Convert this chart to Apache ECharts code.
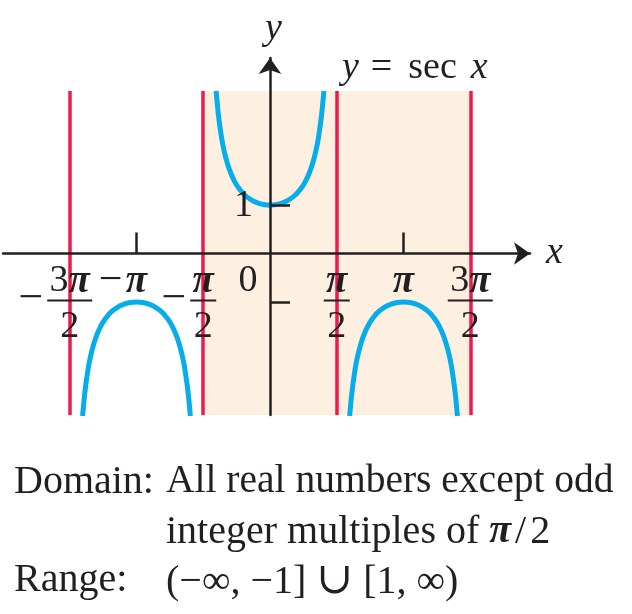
<!DOCTYPE html>
<html>
<head>
<meta charset="utf-8">
<script src="https://cdn.jsdelivr.net/npm/echarts@6/dist/echarts.min.js"></script>
<style>
html,body{margin:0;padding:0;background:#fff;}
#chart{width:632px;height:614px;}
</style>
</head>
<body>
<div id="chart"></div>
<script>
const PI = Math.PI;

// Blue curve branches
const upperBranch = [
  [-1.2677, 3.35], [-1.24, 3.08], [-1.2, 2.76], [-1.15, 2.45], [-1.1, 2.20],
  [-1.0, 1.85], [-0.9, 1.61], [-0.8, 1.435], [-0.7, 1.31], [-0.6, 1.21],
  [-0.45, 1.11], [-0.3, 1.047], [-0.15, 1.011], [0, 1.0], [0.15, 1.011],
  [0.3, 1.047], [0.45, 1.11], [0.6, 1.21], [0.7, 1.31], [0.8, 1.435],
  [0.9, 1.61], [1.0, 1.85], [1.1, 2.20], [1.15, 2.45], [1.2, 2.76],
  [1.24, 3.08], [1.2677, 3.35]
];
const leftBranch = [
  [-4.4093, -3.35], [-4.3816, -3.08], [-4.3416, -2.76], [-4.2916, -2.45], [-4.2416, -2.20],
  [-4.1416, -1.85], [-4.0416, -1.61], [-3.9416, -1.435], [-3.8416, -1.31], [-3.7416, -1.21],
  [-3.5916, -1.11], [-3.4416, -1.047], [-3.2916, -1.011], [-3.1416, -1.0], [-2.9916, -1.011],
  [-2.8416, -1.047], [-2.6916, -1.11], [-2.5416, -1.21], [-2.4416, -1.31], [-2.3416, -1.435],
  [-2.2416, -1.61], [-2.1416, -1.85], [-2.0416, -2.20], [-1.9916, -2.45], [-1.9416, -2.76],
  [-1.9016, -3.08], [-1.8739, -3.35]
];
const rightBranch = [
  [1.8739, -3.35], [1.9016, -3.08], [1.9416, -2.76], [1.9916, -2.45], [2.0416, -2.20],
  [2.1416, -1.85], [2.2416, -1.61], [2.3416, -1.435], [2.4416, -1.31], [2.5416, -1.21],
  [2.6916, -1.11], [2.8416, -1.047], [2.9916, -1.011], [3.1416, -1.0], [3.2916, -1.011],
  [3.4416, -1.047], [3.5916, -1.11], [3.7416, -1.21], [3.8416, -1.31], [3.9416, -1.435],
  [4.0416, -1.61], [4.1416, -1.85], [4.2416, -2.20], [4.2916, -2.45], [4.3416, -2.76],
  [4.3816, -3.08], [4.4093, -3.35]
];

// Asymptotes and shaded band
const asymptotes = [-3 * PI / 2, -PI / 2, PI / 2, 3 * PI / 2];
const asymptoteYRange = [-3.33, 3.35];
const shadeX = [-PI / 2, 3 * PI / 2];

// Tick positions
const xTicks = [-PI, PI];
const yTicks = [-1, 1];

// Tick labels
const xLabelValues = [-3 * PI / 2, -PI, -PI / 2, PI / 2, PI, 3 * PI / 2];
const xLabelSigns  = ['−', '−', '−', '', '', ''];
const xLabelNums   = ['3π', 'π', 'π', 'π', 'π', '3π'];
const xLabelDens   = ['2', '', '2', '2', '', '2'];
const yLabelValues = [1];
const yLabelTexts  = ['1'];
const originLabel  = '0';

// Axis ranges
const xRange = [-6.282, 6.1176];
const yRange = [-3.33, 4.031];

const FONT = '"Liberation Serif","Times New Roman",serif';
const INK = '#231f20';
const RED = '#ee1a4b';
const BLUE = '#06adea';
const SHADE = '#fdf0e1';
const FS = 38;
const FS_TXT = 40;

const chart = echarts.init(document.getElementById('chart'), null, {renderer: 'canvas'});

function numRich(s) {
  return s.replace(/π/g, '{p|π}');
}
const richStyles = {
  p: {fontFamily: FONT, fontSize: FS + 1, fontStyle: 'italic', fontWeight: 'bold', fill: INK}
};

const option = {
  animation: false,
  backgroundColor: '#ffffff',
  title: {
    text: '{i|y}{e|=}{s|sec}{i|x}',
    left: 337, top: 44,
    textStyle: {
      fontFamily: FONT, fontSize: FS, fontWeight: 'normal', color: INK,
      rich: {
        i: {fontFamily: FONT, fontSize: FS, fontStyle: 'italic', color: INK},
        e: {fontFamily: FONT, fontSize: FS, color: INK, padding: [0, 16, 0, 12]},
        s: {fontFamily: FONT, fontSize: FS, color: INK, padding: [0, 14, 0, 0]}
      }
    }
  },
  grid: {left: 3, width: 527, top: 58, bottom: 199, containLabel: false},
  xAxis: {
    type: 'value', min: xRange[0], max: xRange[1], z: 10,
    name: 'x', nameLocation: 'end', nameGap: 14,
    nameTextStyle: {fontFamily: FONT, fontSize: FS, fontStyle: 'italic', color: INK, verticalAlign: 'middle', padding: [0,0,6,2]},
    axisLine: {onZero: true, symbol: ['none', 'arrow'], symbolSize: [17, 16], lineStyle: {color: INK, width: 2.5}},
    axisTick: {show: true, inside: true, length: 21, customValues: xTicks, lineStyle: {color: INK, width: 2.5}},
    axisLabel: {show: false},
    splitLine: {show: false}
  },
  yAxis: {
    type: 'value', min: yRange[0], max: yRange[1], z: 10,
    name: 'y', nameLocation: 'end', nameGap: 10,
    nameTextStyle: {fontFamily: FONT, fontSize: FS, fontStyle: 'italic', color: INK, padding: [0, 0, 0, 7]},
    axisLine: {onZero: true, symbol: ['none', 'arrow'], symbolSize: [17, 16], lineStyle: {color: INK, width: 2.5}},
    axisTick: {show: true, inside: true, length: 20, customValues: yTicks, lineStyle: {color: INK, width: 2.5}},
    axisLabel: {show: false},
    splitLine: {show: false}
  },
  series: [
    {
      type: 'line', data: [], silent: true, z: 1,
      markArea: {
        silent: true,
        itemStyle: {color: SHADE, opacity: 1},
        data: [[{coord: [shadeX[0], asymptoteYRange[0]]}, {coord: [shadeX[1], asymptoteYRange[1]]}]]
      },
      markLine: {
        silent: true, symbol: ['none', 'none'], label: {show: false},
        lineStyle: {color: RED, width: 3.5, type: 'solid'},
        data: asymptotes.map(a => [{coord: [a, asymptoteYRange[0]]}, {coord: [a, asymptoteYRange[1]]}])
      }
    },
    {type: 'line', data: upperBranch, smooth: true, showSymbol: false, silent: true, z: 3,
     lineStyle: {color: BLUE, width: 5, cap: 'butt'}},
    {type: 'line', data: leftBranch, smooth: true, showSymbol: false, silent: true, z: 3,
     lineStyle: {color: BLUE, width: 5, cap: 'butt'}},
    {type: 'line', data: rightBranch, smooth: true, showSymbol: false, silent: true, z: 3,
     lineStyle: {color: BLUE, width: 5, cap: 'butt'}},
    {
      type: 'custom', coordinateSystem: 'cartesian2d', silent: true, z: 20,
      data: xLabelValues.map((v, i) => [v, 0, i]),
      encode: {x: 0, y: 1},
      renderItem: function (params, api) {
        const i = params.dataIndex;
        const p = api.coord([api.value(0), 0]);
        const num = xLabelNums[i], den = xLabelDens[i], sign = xLabelSigns[i];
        const w = num.length > 1 ? 45 : 26;
        const children = [];
        children.push({
          type: 'text', x: p[0], y: p[1] + 28,
          style: {text: numRich(num), fontFamily: FONT, fontSize: FS, fill: INK,
                  align: 'center', verticalAlign: 'middle', rich: richStyles}
        });
        if (den) {
          children.push({
            type: 'line', shape: {x1: p[0] - w / 2, y1: p[1] + 47, x2: p[0] + w / 2, y2: p[1] + 47},
            style: {stroke: INK, lineWidth: 2}
          });
          children.push({
            type: 'text', x: p[0], y: p[1] + 74,
            style: {text: den, fontFamily: FONT, fontSize: FS, fill: INK, align: 'center', verticalAlign: 'middle'}
          });
          if (sign) {
            children.push({
              type: 'text', x: p[0] - w / 2 - 4, y: p[1] + 46,
              style: {text: sign, fontFamily: FONT, fontSize: FS + 6, fill: INK, align: 'right', verticalAlign: 'middle'}
            });
          }
        } else if (sign) {
          children.push({
            type: 'text', x: p[0] - w / 2 - 1, y: p[1] + 27,
            style: {text: sign, fontFamily: FONT, fontSize: FS + 4, fill: INK, align: 'right', verticalAlign: 'middle'}
          });
        }
        if (i === 0) {
          const o = api.coord([0, 0]);
          children.push({
            type: 'text', x: o[0] - 22, y: o[1] + 28,
            style: {text: originLabel, fontFamily: FONT, fontSize: FS, fill: INK, align: 'center', verticalAlign: 'middle'}
          });
          yLabelValues.forEach((yv, k) => {
            const q = api.coord([0, yv]);
            children.push({
              type: 'text', x: q[0] - 17, y: q[1] + 1,
              style: {text: yLabelTexts[k], fontFamily: FONT, fontSize: FS, fill: INK, align: 'right', verticalAlign: 'middle'}
            });
          });
        }
        return {type: 'group', children: children};
      }
    }
  ],
  graphic: [
    {type: 'text', left: 14, top: 462, style: {text: 'Domain:', fontFamily: FONT, fontSize: FS_TXT, fill: INK}},
    {type: 'text', left: 166, top: 462, style: {text: 'All real numbers except odd', fontFamily: FONT, fontSize: FS_TXT - 0.5, fill: INK}},
    {type: 'text', left: 166, top: 512, style: {text: 'integer multiples of {p|π}{s|/}2', fontFamily: FONT, fontSize: FS_TXT, fill: INK,
      rich: {p: {fontFamily: FONT, fontSize: FS_TXT, fontStyle: 'italic', fontWeight: 'bold', fill: INK},
             s: {fontFamily: FONT, fontSize: FS_TXT, fill: INK, padding: [0, 4, 0, 4]}}}},
    {type: 'text', left: 14, top: 560, style: {text: 'Range:', fontFamily: FONT, fontSize: FS_TXT, fill: INK}},
    {type: 'text', left: 166, top: 560, style: {text: '(−∞, −1] {c|∪} [1, ∞)', fontFamily: FONT, fontSize: FS_TXT, fill: INK,
      rich: {c: {fontFamily: '"DejaVu Serif",serif', fontSize: FS_TXT + 4, fill: INK}}}}
  ]
};

chart.setOption(option);
</script>
</body>
</html>
